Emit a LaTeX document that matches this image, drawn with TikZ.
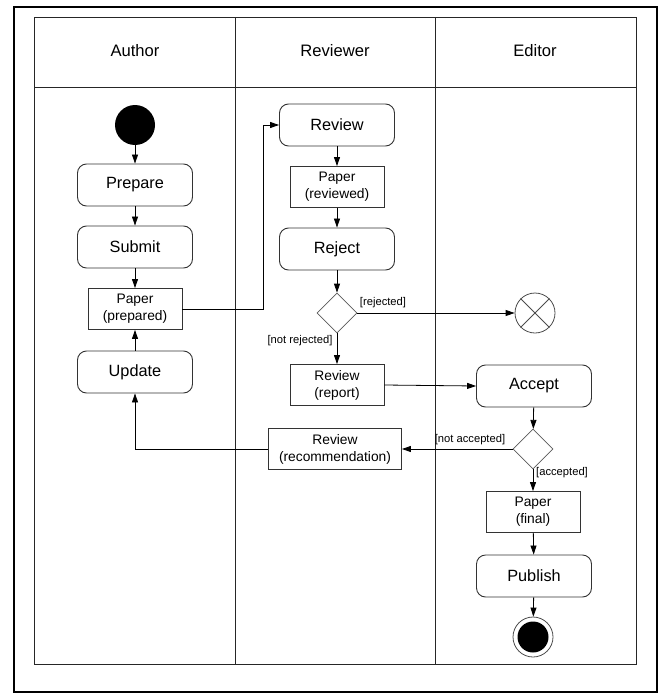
\documentclass[tikz,border=0pt]{standalone}
\usepackage{fontspec}
\setmainfont{Liberation Sans}
\usetikzlibrary{shapes.geometric,arrows.meta}
\begin{document}
\begin{tikzpicture}[x=1pt,y=-1pt,
  line/.style={draw=black!85, line width=0.9pt},
  act/.style={draw=black!80, line width=0.9pt, rounded corners=9pt, minimum width=115pt, minimum height=42pt, inner sep=0pt, font=\fontsize{16.3}{18}\selectfont},
  obj/.style={draw=black!80, line width=0.9pt, minimum width=94pt, minimum height=41pt, inner sep=1pt, align=center, font=\fontsize{13.8}{17}\selectfont},
  dec/.style={draw=black!65, line width=0.8pt, diamond, minimum width=40pt, minimum height=40pt, inner sep=0pt},
  guard/.style={font=\fontsize{11.2}{13}\selectfont, inner sep=0pt},
  hdr/.style={font=\fontsize{16.6}{18}\selectfont},
  arr/.style={draw=black, line width=0.8pt, -{Triangle[length=9pt,width=6pt]}}
]
\useasboundingbox (0,0) rectangle (662,693);
% frames
\draw[line width=1.3pt] (14,7) rectangle (657,692);
\draw[line width=1pt, black!85] (34,18) rectangle (636,664);
\draw[line width=1pt, black!85] (235,18) -- (235,664);
\draw[line width=1pt, black!85] (435,18) -- (435,664);
\draw[line width=1pt, black!85] (34,87) -- (636,87);
\node[hdr] (hA) at (135,51) {Author};
\node[hdr] (hR) at (335,51) {Reviewer};
\node[hdr] (hE) at (535,51) {Editor};

% Author lane
\node[circle, fill=black, minimum size=40pt, inner sep=0pt] (start) at (135,125) {};
\node[act] (prep) at (135,185) {Prepare};
\node[act] (sub) at (135,247) {Submit};
\node[obj] (pprep) at (135,309) {Paper\\(prepared)};
\node[act] (upd) at (135,372) {Update};

% Reviewer lane
\node[act] (rev) at (337,125) {Review};
\node[obj] (prev) at (337,187) {Paper\\(reviewed)};
\node[act] (rej) at (337,249) {Reject};
\node[dec] (d1) at (337,313) {};
\node[obj] (rrep) at (337,385) {Review\\(report)};
\node[obj, minimum width=133pt] (rrec) at (335,449) {Review\\(recommendation)};

% Editor lane
\node[circle, draw=black!70, line width=0.8pt, minimum size=40pt, inner sep=0pt] (fin) at (535,313) {};
\draw[black!70, line width=0.8pt] (fin.45) -- (fin.225) (fin.135) -- (fin.315);
\node[act] (acc) at (534,386) {Accept};
\node[dec] (d2) at (533,449) {};
\node[obj] (pfin) at (533,512) {Paper\\(final)};
\node[act] (pub) at (534,576) {Publish};
\node[circle, draw=black!70, line width=0.8pt, minimum size=40pt, inner sep=0pt] (endn) at (533,637) {};
\node[circle, fill=black, minimum size=31pt, inner sep=0pt] (endi) at (533,637) {};

% connectors
\draw[arr] (start) -- (prep);
\draw[arr] (prep) -- (sub);
\draw[arr] (sub) -- (pprep);
\draw[arr] (upd) -- (pprep);
\coordinate (c1) at (263,309);
\draw[arr] (pprep.east) -- (c1) |- (rev.west);
\draw[arr] (rev) -- (prev);
\draw[arr] (prev) -- (rej);
\draw[arr] (rej) -- (d1);
\draw[arr] (d1.east) -- (fin.west);
\node[guard] (g1) at (383,303) {[rejected]};
\draw[arr] (d1.south) -- (rrep.north);
\node[guard] (g2) at (300,341) {[not rejected]};
\draw[arr] (rrep.east) -- (acc.west);
\draw[arr] (acc) -- (d2);
\draw[arr] (d2.west) -- (rrec.east);
\node[guard] (g3) at (470,440) {[not accepted]};
\draw[arr] (rrec.west) -| (upd.south);
\draw[arr] (d2.south) -- (pfin.north);
\node[guard] (g4) at (562,473) {[accepted]};
\draw[arr] (pfin) -- (pub);
\draw[arr] (pub) -- (endn);
\end{tikzpicture}
\end{document}
